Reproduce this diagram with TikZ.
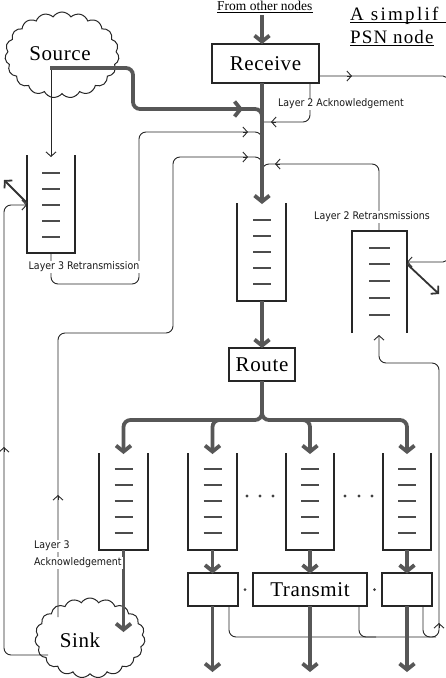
\documentclass[tikz,border=0pt]{standalone}
\usepackage{fontspec}
\setmainfont{Liberation Serif}
\newfontfamily\bigf[LetterSpace=3]{Liberation Serif}
\newfontfamily\smallf{DejaVu Sans Condensed}
\usetikzlibrary{arrows.meta,shapes.symbols}
\begin{document}
\begin{tikzpicture}[x=1pt,y=-1pt,
  thickline/.style={line width=3.8pt, draw=black!66, rounded corners=7pt},
  thickarrow/.style={thickline, -{Straight Barb[length=6pt,width=15pt]}},
  thinline/.style={line width=0.9pt, draw=black!85, rounded corners=7pt},
  thinarrow/.style={thinline, -{Straight Barb[length=4.5pt,width=10pt]}},
  thintip/.style={line width=0.9pt, draw=black!85, -{Straight Barb[length=4.5pt,width=10pt]}},
  wall/.style={line width=1.3pt, draw=black!85},
  qdash/.style={line width=1.2pt, draw=black!70},
  diag/.style={line width=1.8pt, draw=black!80, -{Straight Barb[length=5pt,width=11pt]}},
  box/.style={draw=black!85, line width=1.2pt, fill=white, inner sep=0pt, font=\bigf\fontsize{21}{21}\selectfont},
  cloudy/.style={cloud, cloud puffs=19, cloud puff arc=115, cloud ignores aspect, draw=black!85, line width=1pt, fill=white, inner sep=0pt},
  bigtext/.style={font=\bigf\fontsize{21}{21}\selectfont, inner sep=0pt},
  smalltext/.style={font=\smallf\fontsize{10.5}{12}\selectfont, text=black!90, fill=white, inner sep=1pt},
  dot/.style={circle, fill=black!75, inner sep=0pt, minimum size=3pt}
]
\useasboundingbox (0,0) rectangle (445,678);

% clouds
\node[cloudy, minimum width=114pt, minimum height=86pt] (src) at (62,55) {};
\node[cloudy, minimum width=110pt, minimum height=80pt] (snk) at (90,638) {};

% boxes
\node[box, minimum width=107pt, minimum height=39pt] (rcv) at (265.5,63.5) {Receive};
\node[box, minimum width=66pt, minimum height=33pt] (route) at (262,364.5) {Route};
\node[box, minimum width=50pt, minimum height=33pt] (tx1) at (213,589.5) {};
\node[box, minimum width=114pt, minimum height=33pt] (tx2) at (310,589.5) {Transmit};
\node[box, minimum width=50pt, minimum height=33pt] (tx3) at (407,589.5) {};
\node[dot] (d1) at (245,589.5) {};
\node[dot] (d2) at (374.5,589.5) {};

% queues
% main queue (open top)
\draw[wall] (237,203) -- (237,301) -- (286,301) -- (286,203);
\foreach \y in {220,236,252,268,284} \draw[qdash] (253,\y) -- (271,\y);
% layer 3 retransmission queue (open top)
\draw[wall] (27,155) -- (27,253) -- (75,253) -- (75,155);
\foreach \y in {173,189,205,221,237} \draw[qdash] (42,\y) -- (60,\y);
% layer 2 retransmission queue (open bottom)
\draw[wall] (352,333) -- (352,231) -- (407,231) -- (407,333);
\foreach \y in {248,264,281,298,315} \draw[qdash] (369,\y) -- (390,\y);
% output queues (open top)
\foreach \l/\r in {99/148,188/237,286/334,383/431}{
  \draw[wall] (\l,453) -- (\l,550) -- (\r,550) -- (\r,453);
  \foreach \y in {469,485,501,517,533} \draw[qdash] ({(\l+\r)/2-9},\y) -- ({(\l+\r)/2+9},\y);
}
\foreach \x in {247,260,273,345,359,372} \node[dot, minimum size=3.2pt] at (\x,496) {};

% thin paths
% layer 2 acknowledgement
\draw[thinline] (310,83) -- (310,122) -- (263,122);
\draw[thintip] (276,122) -- (271,122);
% layer 3 retransmission
\draw[thinline] (51,253) -- (51,284) -- (139,284) -- (139,132) -- (262,132) -- (262,146);
\draw[thintip] (243,132) -- (248,132);
% layer 3 acknowledgement
\draw[thinline] (58,617) -- (58,333) -- (173,333) -- (173,157) -- (262,157) -- (262,171);
\draw[thintip] (243,157) -- (248,157);
\draw[thintip] (58,500) -- (58,495);
% layer 2 retransmission
\draw[thinline] (379,231) -- (379,164) -- (262,164) -- (262,178);
\draw[thintip] (280,164) -- (275,164);
% source -> layer 3 queue
\draw[thinarrow] (51,68) -- (51,157);
% sink -> layer 3 queue
\draw[thinarrow] (48,655) -- (4,655) -- (4,205) -- (27,205);
\draw[thintip] (4,452) -- (4,447);
% discard arrows
\draw[diag] (27,203) -- (4,180);
\draw[diag] (407,264) -- (439,294);
% receive output to the right, back into layer 2 queue
\draw[thinarrow, rounded corners=5pt] (319,76) -- (448,76) -- (448,262) -- (407,262);
\draw[thintip] (347,76) -- (352,76);
% transmit feedback to layer 2 queue
\draw[thinarrow] (229,606) -- (229,637) -- (439,637) -- (439,363) -- (379,363) -- (379,335);
\draw[thinline] (359,606) -- (359,637) -- (376,637);
\draw[thinline] (423,606) -- (423,637) -- (436,637);
\draw[thintip] (439,628) -- (439,623);

% thick paths
\draw[thickarrow] (262,15) -- (262,44);
\draw[thickarrow] (262,83) -- (262,204);
\draw[thickline] (50,68) -- (133,68) -- (133,109) -- (262,109) -- (262,124);
\draw[thickarrow] (238,109) -- (243,109);
\draw[thickarrow] (262,301) -- (262,348);
\draw[thickarrow] (262,381) -- (262,420) -- (123.5,420) -- (123.5,454);
\draw[thickarrow] (262,381) -- (262,420) -- (407,420) -- (407,454);
\draw[thickarrow] (236,420) -- (212.5,420) -- (212.5,454);
\draw[thickarrow] (286,420) -- (310,420) -- (310,454);
\draw[thickarrow] (123.5,550) -- (123.5,632);
\foreach \x in {212.5,310,407}{
  \draw[thickarrow] (\x,550) -- (\x,573.5);
  \draw[thickarrow] (\x,606) -- (\x,672);
}

% texts
\node[bigtext] (srct) at (60,54) {Source};
\node[bigtext] (snkt) at (80,640) {Sink};
\node[font=\fontsize{13.5}{13.5}\selectfont, anchor=base west, inner sep=0pt] (from) at (217,10) {From other nodes};
\draw[line width=0.8pt] ([yshift=-2.3pt]from.base west) -- ([yshift=-2.3pt]from.base east);
\node[font=\bigf\fontsize{19}{19}\selectfont\addfontfeature{LetterSpace=12}, anchor=base west, inner sep=0pt] (t1) at (350,20) {A simplif};
\draw[line width=0.9pt] ([yshift=-2.5pt]t1.base west) -- (446,22.5);
\node[font=\bigf\fontsize{19}{19}\selectfont\addfontfeature{LetterSpace=6}, anchor=base west, inner sep=0pt] (t2) at (350,43) {PSN node};
\draw[line width=0.9pt] ([yshift=-2.5pt]t2.base west) -- ([yshift=-2.5pt]t2.base east);

\node[smalltext] (l2ack) at (341,104) {Layer 2 Acknowledgement};
\node[smalltext] (l3ret) at (84,267) {Layer 3 Retransmission};
\node[smalltext] (l2ret) at (372,217) {Layer 2 Retransmissions};
\node[smalltext, anchor=west] (l3a) at (33,546) {Layer 3};
\node[smalltext, anchor=west] (l3b) at (33,563) {Acknowledgement};
\end{tikzpicture}
\end{document}
